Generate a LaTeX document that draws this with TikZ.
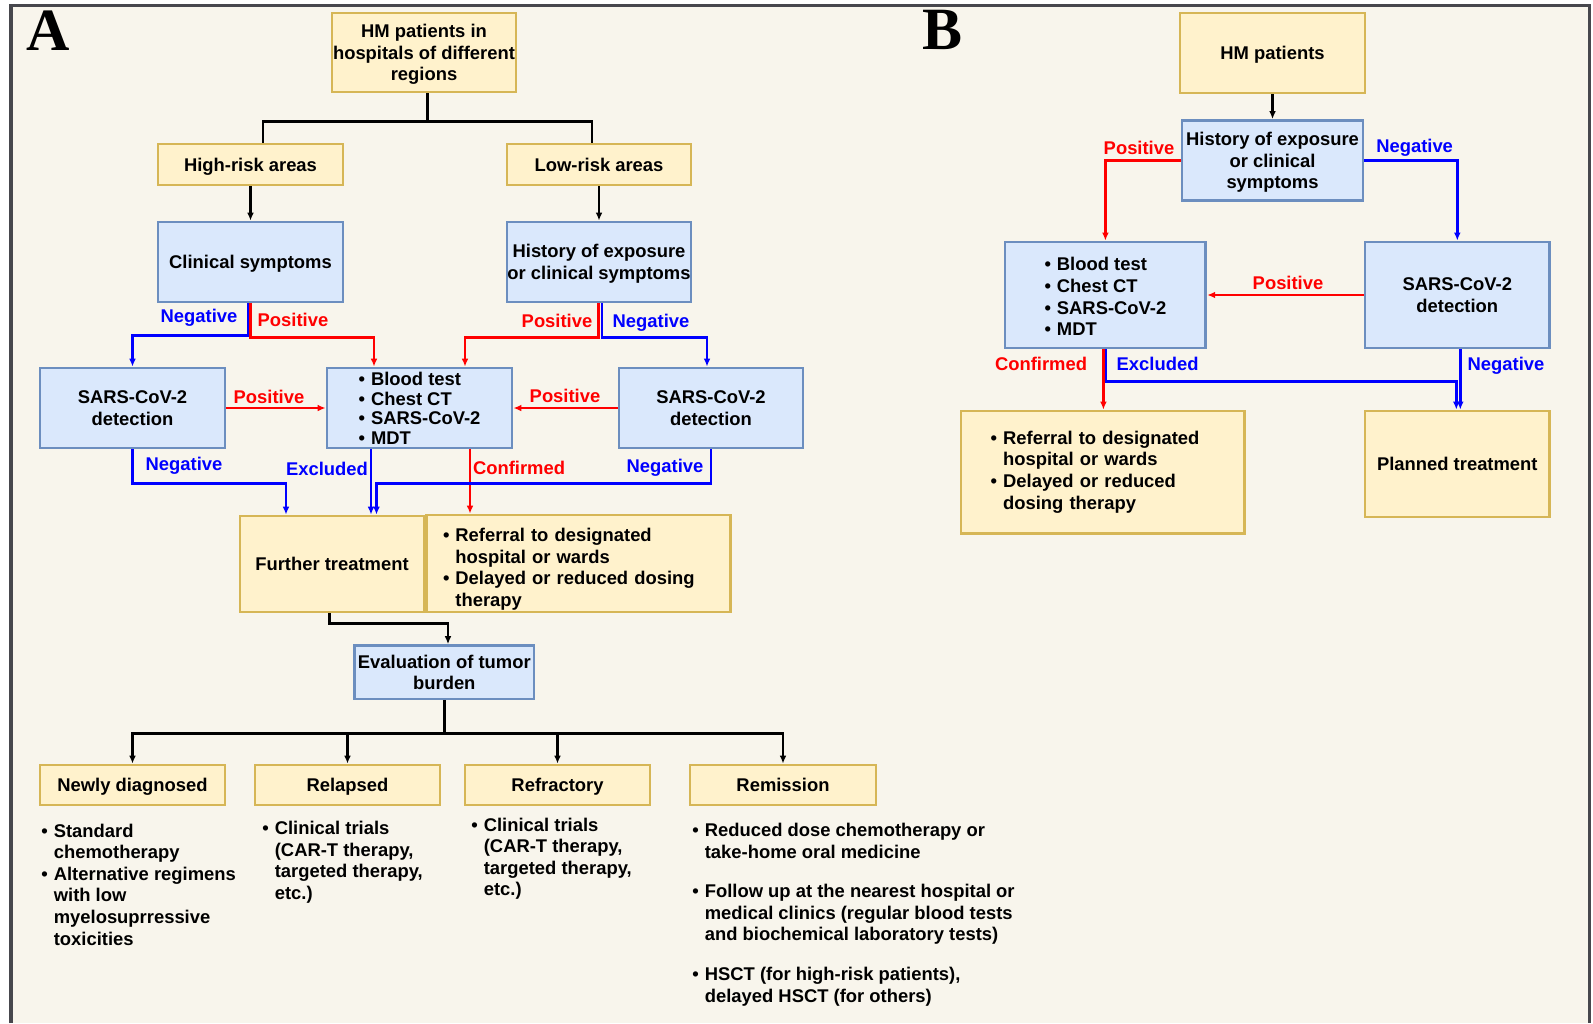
\documentclass[tikz,border=0pt]{standalone}
\usepackage{fontspec}
\setmainfont{Liberation Sans}
\newfontfamily\panelfont{Liberation Serif}
\usepackage{tikz}
\usetikzlibrary{arrows.meta}

\definecolor{bgcream}{HTML}{F8F5EC}
\definecolor{framegray}{HTML}{47474D}
\definecolor{yfill}{HTML}{FFF2CC}
\definecolor{yline}{HTML}{D6B656}
\definecolor{bfill}{HTML}{DAE8FC}
\definecolor{bline}{HTML}{6C8EBF}
\definecolor{posred}{HTML}{FF0000}
\definecolor{negblue}{HTML}{0000FF}

\newcommand{\itm}{\textbullet}
\newcommand{\blist}[1]{\begin{tabular}[t]{@{}l@{\hspace{3pt}}l@{}}#1\end{tabular}}

\tikzset{
  ylistbox/.style={draw=yline, fill=yfill, line width=1.4pt, inner sep=0pt, align=center},
  blistbox/.style={draw=bline, fill=bfill, line width=1.4pt, inner sep=0pt, align=center},
  ybox/.style={ylistbox, text depth=0pt},
  bbox/.style={blistbox, text depth=0pt},
  conn/.style={line width=1.25pt},
  arr/.style={conn, -{Latex[length=4pt,width=3.4pt]}},
  poslab/.style={text=posred},
  neglab/.style={text=negblue},
  listtxt/.style={anchor=base west, inner sep=0pt}
}

\begin{document}
\begin{tikzpicture}[x=0.5pt, y=-0.5pt, every node/.style={font=\bfseries\fontsize{9.2}{10.8}\selectfont}]
\useasboundingbox (0,0) rectangle (1593,1023);
\fill[white] (0,0) rectangle (1593,1023);
\fill[bgcream] (11,5.3) rectangle (1589.7,1023);
\draw[framegray, line width=1.7pt] (11,1023) -- (11,5.3) -- (1589.7,5.3) -- (1589.7,1023);

\node[font=\panelfont\bfseries\fontsize{30}{30}\selectfont] (pa) at (48,31) {A};
\node[font=\panelfont\bfseries\fontsize{30}{30}\selectfont] (pb) at (942.5,30) {B};

\node[ybox, minimum width=92pt, minimum height=39.5pt] (hm) at (424,52.5) {HM patients in\\hospitals of different\\regions};
\node[ybox, minimum width=92.5pt, minimum height=20.5pt] (high) at (250.5,164.5) {High-risk areas};
\node[ybox, minimum width=92pt, minimum height=20.5pt] (low) at (599,164.5) {Low-risk areas};
\node[bbox, minimum width=92.5pt, minimum height=40pt] (clin) at (250.5,262) {Clinical symptoms};
\node[bbox, minimum width=92pt, minimum height=40pt] (hist) at (599,262) {History of exposure\\or clinical symptoms};
\node[bbox, minimum width=92.5pt, minimum height=40pt] (sarsl) at (132.5,408) {SARS-CoV-2\\detection};
\node[blistbox, text height=8.4pt, text depth=31pt, minimum width=92.5pt, minimum height=40pt] (tests) at (419.5,408) {\fontsize{9.2}{9.85}\selectfont\blist{\itm & Blood test\\ \itm & Chest CT\\ \itm & SARS-CoV-2\\ \itm & MDT}};
\node[bbox, minimum width=92pt, minimum height=40pt] (sarsr) at (711,408) {SARS-CoV-2\\detection};
\node[ybox, minimum width=92pt, minimum height=48pt] (further) at (332,564) {Further treatment};
\node[ylistbox, align=left, text height=10.5pt, text depth=32.6pt, text width=135.5pt, inner xsep=8.25pt, minimum height=48.5pt] (referral) at (578.5,563.5) {\blist{\itm & Referral to designated\\ & hospital or wards\\ \itm & Delayed or reduced dosing\\ & therapy}};
\node[bbox, minimum width=89.7pt, minimum height=26.7pt] (eval) at (444.3,672.3) {Evaluation of tumor\\burden};
\node[ybox, minimum width=92.5pt, minimum height=20pt] (newly) at (132.5,785) {Newly diagnosed};
\node[ybox, minimum width=92.5pt, minimum height=20pt] (relapsed) at (347.5,785) {Relapsed};
\node[ybox, minimum width=92.5pt, minimum height=20pt] (refract) at (557.5,785) {Refractory};
\node[ybox, minimum width=93pt, minimum height=20pt] (remission) at (783,785) {Remission};

\node[listtxt] (newlytxt) at (41,837) {\blist{\itm & Standard\\ & chemotherapy\\ \itm & Alternative regimens\\ & with low\\ & myelosuprressive\\ & toxicities}};
\node[listtxt] (relapsedtxt) at (262,834.5) {\blist{\itm & Clinical trials\\ & (CAR-T therapy,\\ & targeted therapy,\\ & etc.)}};
\node[listtxt] (refracttxt) at (471,831) {\blist{\itm & Clinical trials\\ & (CAR-T therapy,\\ & targeted therapy,\\ & etc.)}};
\node[listtxt] (remissiontxt) at (692,836.5) {\blist{\itm & Reduced dose chemotherapy or\\ & take-home oral medicine\\[9pt] \itm & Follow up at the nearest hospital or\\ & medical clinics (regular blood tests\\ & and biochemical laboratory tests)\\[9pt] \itm & HSCT (for high-risk patients),\\ & delayed HSCT (for others)}};

\draw[conn] ([xshift=1.75pt]hm.south) -- ++(0,28) coordinate (split);
\draw[conn] ([xshift=6.25pt]high.north) |- (split) -| ([xshift=-3.5pt]low.north);
\draw[arr] (high) -- (clin);
\draw[arr] (low) -- (hist);
\draw[arr, negblue] ([xshift=-1pt]clin.south) -- ++(0,32) -| (sarsl.north);
\draw[arr, posred] (clin.south) -- ++(0,34) -| ([xshift=-22.75pt]tests.north);
\draw[arr, posred] ([xshift=-0.25pt]hist.south) -- ++(0,34) -| ([xshift=22.75pt]tests.north);
\draw[arr, negblue] ([xshift=1.5pt]hist.south) -- ++(0,34) -| ([xshift=-2pt]sarsr.north);
\draw[arr, posred] (sarsl) -- (tests);
\draw[arr, posred] (sarsr) -- (tests);
\draw[arr, negblue] (sarsl.south) -- ++(0,34) -| ([xshift=-23pt]further.north);
\draw[arr, negblue] ([xshift=-24.25pt]tests.south) -- ([xshift=19.5pt]further.north);
\draw[arr, posred] ([xshift=25.25pt]tests.south) -- ([xshift=-54.25pt]referral.north);
\draw[arr, negblue] (sarsr.south) -- ++(0,34) -| ([xshift=22.25pt]further.north);
\draw[arr] ([xshift=-1.2pt]further.south) -- ++(0,10) -| ([xshift=1.85pt]eval.north);
\draw[conn] (eval.south) -- ++(0,33) coordinate (evsplit);
\foreach \n in {newly,relapsed,refract,remission}
  \draw[arr] (evsplit) -| (\n.north);

\node[neglab] (n1) at (199,318) {Negative};
\node[poslab] (p1) at (293,320) {Positive};
\node[poslab] (p2) at (557,321) {Positive};
\node[neglab] (n2) at (651,323) {Negative};
\node[poslab] (p3) at (269,397) {Positive};
\node[poslab] (p4) at (565,396) {Positive};
\node[neglab] (n3) at (184,466) {Negative};
\node[neglab] (e1) at (327,469) {Excluded};
\node[poslab] (c1) at (519,468) {Confirmed};
\node[neglab] (n4) at (665,468) {Negative};

\node[ybox, minimum width=92.5pt, minimum height=40pt] (hmB) at (1272.5,53) {HM patients};
\node[bbox, minimum width=90.5pt, minimum height=40pt] (histB) at (1272.5,160.5) {History of exposure\\or clinical\\symptoms};
\node[blistbox, text height=11.5pt, minimum width=100.4pt, minimum height=53pt] (testsB) at (1105.4,295) {\blist{\itm & Blood test\\ \itm & Chest CT\\ \itm & SARS-CoV-2\\ \itm & MDT}};
\node[bbox, minimum width=92.3pt, minimum height=53pt] (sarsB) at (1457.3,295) {SARS-CoV-2\\detection};
\node[ylistbox, align=left, text width=112.1pt, inner xsep=14.85pt, minimum height=61.4pt] (referB) at (1102.8,472.4) {\blist{\itm & Referral to designated\\ & hospital or wards\\ \itm & Delayed or reduced\\ & dosing therapy}};
\node[ybox, minimum width=92.3pt, minimum height=53pt] (planned) at (1457.3,464) {Planned treatment};

\draw[arr] (hmB) -- (histB);
\draw[arr, posred] (histB.west) -| (testsB.north);
\draw[arr, negblue] (histB.east) -| (sarsB.north);
\draw[arr, posred] (sarsB) -- (testsB);
\draw[arr, posred] ([xshift=-1pt]testsB.south) -- ([xshift=-1pt]testsB.south |- referB.north);
\draw[arr, negblue] ([xshift=0.25pt]testsB.south) -- ++(0,32) -| ([xshift=-0.5pt]planned.north);
\draw[arr, negblue] ([xshift=1.5pt]sarsB.south) -- ([xshift=1.5pt]planned.north);

\node[poslab] (p5) at (1139,148) {Positive};
\node[neglab] (n5) at (1414.6,148) {Negative};
\node[poslab] (p6) at (1288,283) {Positive};
\node[poslab] (c2) at (1041,364) {Confirmed};
\node[neglab] (e2) at (1157.6,364) {Excluded};
\node[neglab] (n6) at (1506,365.5) {Negative};
\end{tikzpicture}
\end{document}
